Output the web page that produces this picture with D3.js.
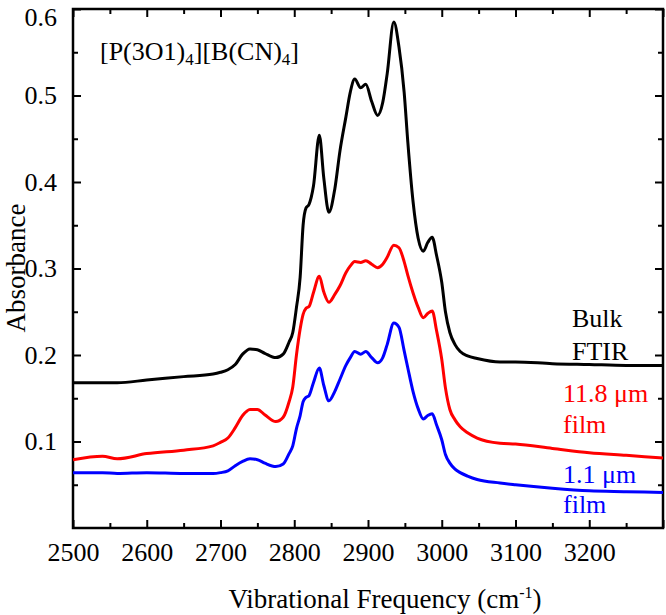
<!DOCTYPE html>
<html><head><meta charset="utf-8">
<script src="https://cdn.jsdelivr.net/npm/d3@7"></script>
<style>body{margin:0;background:#fff}svg{display:block}text{font-family:'Liberation Serif','Times New Roman',serif}</style>
</head><body>
<script>
// ---- data ----
const freq = [2500,2540,2560,2600,2650,2690,2700,2710,2720,2730,2740,2750,2760,2775,2785,2793,2798,2803,2808,2812,2816,2820,2826,2834,2840,2847,2855,2862,2870,2876,2882,2890,2897,2905,2913,2920,2926,2935,2942,2949,2954,2961,2968,2975,2981,2987,2993,3000,3005,3011,3018,3025,3035,3048,3079,3100,3150,3200,3250,3300];
const bulkFTIR = [.168,.168,.168,.171,.175,.178,.180,.183,.189,.201,.207,.206,.202,.197,.201,.215,.226,.255,.290,.350,.370,.374,.395,.454,.405,.365,.392,.436,.475,.504,.519,.509,.513,.493,.477,.492,.525,.585,.556,.504,.446,.378,.335,.320,.330,.336,.315,.284,.250,.226,.212,.204,.199,.196,.192,.192,.190,.189,.188,.188];
const film118 = [.079,.083,.080,.086,.090,.095,.099,.104,.116,.130,.137,.137,.131,.123,.128,.146,.163,.200,.230,.247,.254,.256,.272,.291,.273,.261,.270,.280,.295,.303,.308,.307,.309,.305,.301,.305,.313,.327,.324,.308,.292,.272,.255,.243,.248,.251,.228,.195,.162,.137,.125,.117,.110,.104,.098,.097,.092,.087,.084,.081];
const film11 = [.064,.064,.063,.064,.063,.063,.064,.066,.072,.077,.080,.079,.075,.071,.074,.086,.095,.115,.130,.146,.151,.153,.168,.185,.165,.147,.158,.172,.188,.197,.204,.201,.204,.197,.191,.197,.212,.237,.232,.205,.185,.158,.138,.126,.130,.132,.119,.102,.085,.075,.068,.064,.060,.056,.052,.050,.046,.043,.042,.041];
const xMajorTicks = [2500,2600,2700,2800,2900,3000,3100,3200,3300];
const xTickLabels = ["2500","2600","2700","2800","2900","3000","3100","3200",""];
const yMajorTicks = [0.1,0.2,0.3,0.4,0.5,0.6];
const yTickLabels = ["0.1","0.2","0.3","0.4","0.5","0.6"];
const seriesNames = ["Bulk FTIR","11.8 μm film","1.1 μm film"];
const seriesColors = ["#000000","#ff0000","#0000ff"];

// ---- layout ----
const W = 666, H = 615;
const m = {left:73, top:9, right:3, bottom:87};
const FONT = "'Liberation Serif','Times New Roman',serif";
const svg = d3.select("body").append("svg").attr("width",W).attr("height",H);
const x = d3.scaleLinear().domain([2500,3300]).range([m.left, W-m.right]);
const y = d3.scaleLinear().domain([0,0.6]).range([H-m.bottom, m.top]);
const x0=x.range()[0], x1=x.range()[1], y0=y.range()[0], y1=y.range()[1];

const xMinor = d3.range(2550,3300,100);
const yMinor = d3.range(0.05,0.6,0.1);

function styleAxis(g){ g.attr("font-family",FONT); g.select(".domain").remove(); g.selectAll("line").attr("stroke","#000").attr("stroke-width",2); }

// bottom
svg.append("g").attr("transform",`translate(0,${y0})`)
  .call(d3.axisBottom(x).tickValues(xMajorTicks).tickSize(-8).tickPadding(15)
    .tickFormat((d,i)=>xTickLabels[i]))
  .call(styleAxis)
  .call(g=>g.selectAll("text").attr("font-size",26).attr("fill","#000"));
svg.append("g").attr("transform",`translate(0,${y0})`)
  .call(d3.axisBottom(x).tickValues(xMinor).tickSize(-5).tickFormat(""))
  .call(styleAxis);
// top
svg.append("g").attr("transform",`translate(0,${y1})`)
  .call(d3.axisTop(x).tickValues(xMajorTicks).tickSize(-8).tickFormat("")).call(styleAxis);
svg.append("g").attr("transform",`translate(0,${y1})`)
  .call(d3.axisTop(x).tickValues(xMinor).tickSize(-5).tickFormat("")).call(styleAxis);
// left
svg.append("g").attr("transform",`translate(${x0},0)`)
  .call(d3.axisLeft(y).tickValues(yMajorTicks).tickSize(-8).tickPadding(16)
    .tickFormat((d,i)=>yTickLabels[i]))
  .call(styleAxis)
  .call(g=>g.selectAll("text").attr("font-size",26).attr("fill","#000"))
  .call(g=>g.selectAll(".tick").filter(d=>d===0.6).select("text").attr("dy","0.62em"));
svg.append("g").attr("transform",`translate(${x0},0)`)
  .call(d3.axisLeft(y).tickValues(yMinor).tickSize(-5).tickFormat("")).call(styleAxis);
// right
svg.append("g").attr("transform",`translate(${x1},0)`)
  .call(d3.axisRight(y).tickValues(yMajorTicks).tickSize(-8).tickFormat("")).call(styleAxis);
svg.append("g").attr("transform",`translate(${x1},0)`)
  .call(d3.axisRight(y).tickValues(yMinor).tickSize(-5).tickFormat("")).call(styleAxis);

// frame
svg.append("rect").attr("x",x0).attr("y",y1).attr("width",x1-x0).attr("height",y0-y1)
  .attr("fill","none").attr("stroke","#000").attr("stroke-width",2.5);

// lines
const series = [bulkFTIR, film118, film11];
const line = d3.line().x((d,i)=>x(freq[i])).y(d=>y(d)).curve(d3.curveMonotoneX);
series.forEach((s,k)=>{
  svg.append("path").datum(s).attr("d",line).attr("fill","none")
    .attr("stroke",seriesColors[k]).attr("stroke-width",3).attr("stroke-linejoin","round");
});

// axis titles
svg.append("text").attr("x",385).attr("y",608).attr("text-anchor","middle").attr("font-size",27)
  .html('Vibrational Frequency (cm<tspan dy="-10" font-size="16">-1</tspan><tspan dy="10">)</tspan>');
svg.append("text").attr("transform","translate(25,268) rotate(-90)").attr("text-anchor","middle")
  .attr("font-size",27).text("Absorbance");

// compound annotation
svg.append("text").attr("x",100).attr("y",60).attr("font-size",26)
  .html('[P(3O1)<tspan dy="5" font-size="17">4</tspan><tspan dy="-5">][B(CN)</tspan><tspan dy="5" font-size="17">4</tspan><tspan dy="-5">]</tspan>');

// series labels
const labelLines = [["Bulk","FTIR"],["11.8 μm","film"],["1.1 μm","film"]];
const labelPos = [[572,327,360],[563,402,433],[563,483,513]];
labelLines.forEach((ls,k)=>{
  ls.forEach((t,j)=>{
    svg.append("text").attr("x",labelPos[k][0]).attr("y",labelPos[k][1+j]).attr("font-size",26)
      .attr("fill",seriesColors[k]).text(t);
  });
});
</script>
</body></html>
